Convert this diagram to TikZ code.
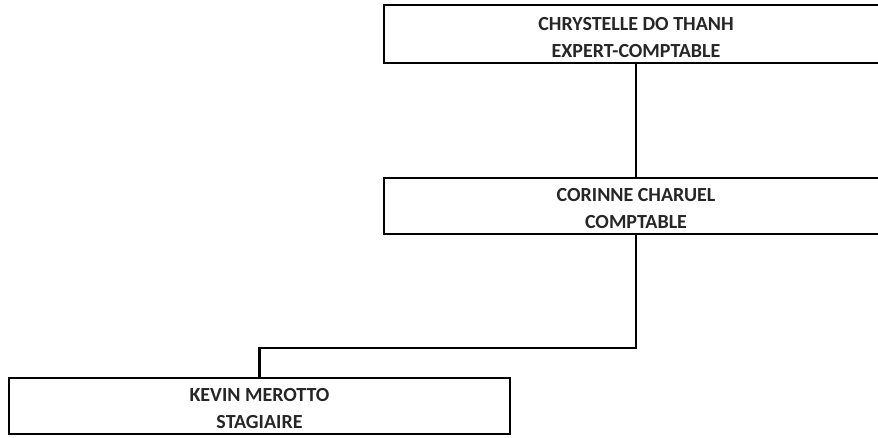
\documentclass[tikz,border=0pt]{standalone}
\usepackage{fontspec}
\setmainfont{Carlito}
\begin{document}
\begin{tikzpicture}[x=1pt,y=-1pt,
  box/.style={draw=black, line width=2.6pt, rectangle, inner sep=0pt},
  txt/.style={inner sep=0pt, align=center, font=\bfseries\fontsize{20}{27}\selectfont, text=black!85},
  link/.style={draw=black, line width=2.6pt}]
\useasboundingbox (0,0) rectangle (878,437);
\clip (0,0) rectangle (878,437);
\node[box, minimum width=504pt, minimum height=58pt] (top) at (636,34) {};
\node[box, minimum width=504pt, minimum height=56pt] (mid) at (636,206) {};
\node[box, minimum width=501pt, minimum height=56pt] (bot) at (259.5,406) {};
\node[txt] (topt) at ([yshift=-3.5pt]top.center) {CHRYSTELLE DO THANH\\EXPERT-COMPTABLE};
\node[txt] (midt) at ([yshift=-2.5pt]mid.center) {CORINNE CHARUEL\\COMPTABLE};
\node[txt] (bott) at ([yshift=-2.5pt]bot.center) {KEVIN MEROTTO\\STAGIAIRE};
\coordinate (elbow) at (0,348);
\draw[link] (top.south) -- (mid.north);
\draw[link] (mid.south) -- (mid.south |- elbow) -| (bot.north);
\end{tikzpicture}
\end{document}
